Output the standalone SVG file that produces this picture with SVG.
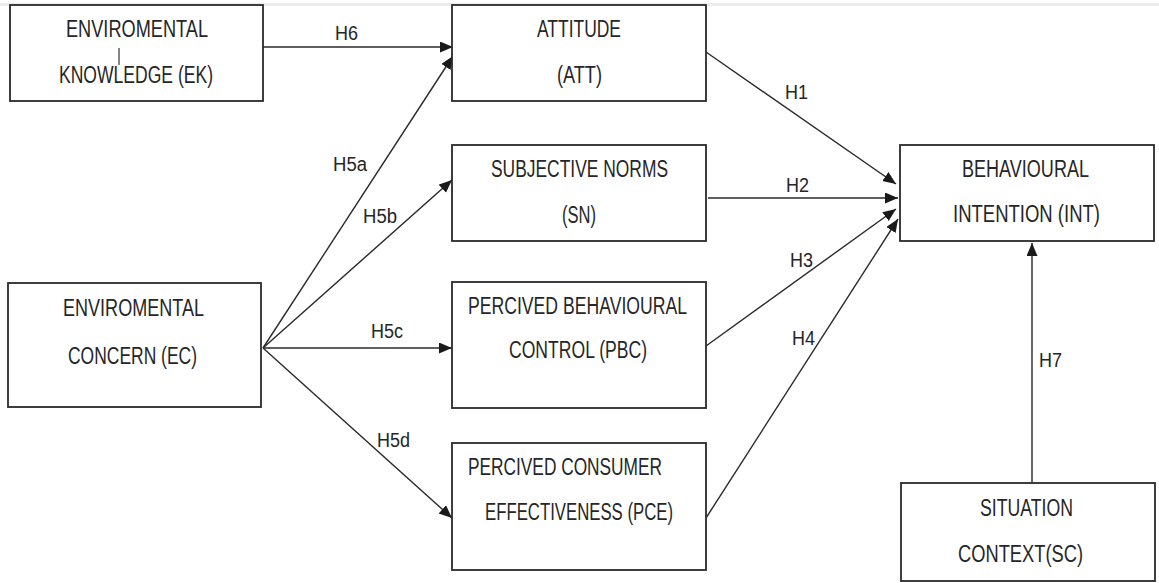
<svg xmlns="http://www.w3.org/2000/svg" width="1159" height="583" viewBox="0 0 1159 583">
  <style>
    .box { fill: #ffffff; stroke: #2a2a2a; stroke-width: 1.8; }
    .lbl { font-family: "Liberation Sans", Arial, sans-serif; font-size: 23px; fill: #262626; }
    .hyp { font-family: "Liberation Sans", Arial, sans-serif; font-size: 20px; fill: #262626; }
    .edge { stroke: #2a2a2a; stroke-width: 1.4; fill: none; marker-end: url(#arrow); }
  </style>
  <defs>
    <marker id="arrow" markerUnits="userSpaceOnUse" markerWidth="14" markerHeight="12" refX="13" refY="5.5" orient="auto">
      <path d="M0,0 L13,5.5 L0,11 Z" fill="#1a1a1a"/>
    </marker>
  </defs>

  <rect width="1159" height="583" fill="#ffffff"/>
  <!-- faint rule along the top edge -->
  <rect x="0" y="3" width="1159" height="3" fill="#ececec"/>

  <!-- connectors -->
  <g id="connectors">
    <line class="edge" x1="263" y1="47" x2="453" y2="47"/>
    <line class="edge" x1="263" y1="348" x2="453" y2="56"/>
    <line class="edge" x1="263" y1="348" x2="452" y2="180"/>
    <line class="edge" x1="263" y1="348" x2="452" y2="348"/>
    <line class="edge" x1="263" y1="348" x2="452" y2="518"/>
    <line class="edge" x1="706" y1="52" x2="896" y2="184"/>
    <line class="edge" x1="708" y1="198" x2="898" y2="198"/>
    <line class="edge" x1="706" y1="346" x2="896" y2="209"/>
    <line class="edge" x1="706" y1="518" x2="898" y2="219"/>
    <line class="edge" x1="1032" y1="483" x2="1032" y2="243"/>

    <text class="hyp" x="335" y="40" textLength="23" lengthAdjust="spacingAndGlyphs">H6</text>
    <text class="hyp" x="333" y="171" textLength="34" lengthAdjust="spacingAndGlyphs">H5a</text>
    <text class="hyp" x="363" y="223" textLength="34" lengthAdjust="spacingAndGlyphs">H5b</text>
    <text class="hyp" x="371" y="338" textLength="32" lengthAdjust="spacingAndGlyphs">H5c</text>
    <text class="hyp" x="377" y="447" textLength="33" lengthAdjust="spacingAndGlyphs">H5d</text>
    <text class="hyp" x="785" y="99" textLength="23" lengthAdjust="spacingAndGlyphs">H1</text>
    <text class="hyp" x="786" y="192" textLength="23" lengthAdjust="spacingAndGlyphs">H2</text>
    <text class="hyp" x="790" y="267" textLength="23" lengthAdjust="spacingAndGlyphs">H3</text>
    <text class="hyp" x="792" y="345" textLength="23" lengthAdjust="spacingAndGlyphs">H4</text>
    <text class="hyp" x="1039" y="367" textLength="23" lengthAdjust="spacingAndGlyphs">H7</text>
  </g>

  <g id="node-ek">
    <rect class="box" x="10" y="5" width="253" height="96"/>
    <text class="lbl" x="66" y="37" textLength="142" lengthAdjust="spacingAndGlyphs">ENVIROMENTAL</text>
    <text class="lbl" x="59" y="83" textLength="154" lengthAdjust="spacingAndGlyphs">KNOWLEDGE (EK)</text>
    <line x1="119" y1="48" x2="119" y2="65" stroke="#333" stroke-width="1.2"/>
  </g>

  <g id="node-att">
    <rect class="box" x="452" y="5" width="254" height="96"/>
    <text class="lbl" x="537" y="37" textLength="84" lengthAdjust="spacingAndGlyphs">ATTITUDE</text>
    <text class="lbl" x="557" y="83" textLength="45" lengthAdjust="spacingAndGlyphs">(ATT)</text>
  </g>

  <g id="node-sn">
    <rect class="box" x="452" y="145" width="254" height="96"/>
    <text class="lbl" x="491" y="177" textLength="177" lengthAdjust="spacingAndGlyphs">SUBJECTIVE NORMS</text>
    <text class="lbl" x="562" y="223" textLength="34" lengthAdjust="spacingAndGlyphs">(SN)</text>
  </g>

  <g id="node-int">
    <rect class="box" x="900" y="145" width="254" height="96"/>
    <text class="lbl" x="962" y="177" textLength="127" lengthAdjust="spacingAndGlyphs">BEHAVIOURAL</text>
    <text class="lbl" x="953" y="222" textLength="147" lengthAdjust="spacingAndGlyphs">INTENTION (INT)</text>
  </g>

  <g id="node-ec">
    <rect class="box" x="8" y="283" width="253" height="124"/>
    <text class="lbl" x="63" y="316" textLength="141" lengthAdjust="spacingAndGlyphs">ENVIROMENTAL</text>
    <text class="lbl" x="68" y="364" textLength="129" lengthAdjust="spacingAndGlyphs">CONCERN (EC)</text>
  </g>

  <g id="node-pbc">
    <rect class="box" x="452" y="282" width="254" height="126"/>
    <text class="lbl" x="468" y="314" textLength="219" lengthAdjust="spacingAndGlyphs">PERCIVED BEHAVIOURAL</text>
    <text class="lbl" x="509" y="358" textLength="138" lengthAdjust="spacingAndGlyphs">CONTROL (PBC)</text>
  </g>

  <g id="node-pce">
    <rect class="box" x="452" y="443" width="254" height="127"/>
    <text class="lbl" x="468" y="475" textLength="194" lengthAdjust="spacingAndGlyphs">PERCIVED CONSUMER</text>
    <text class="lbl" x="485" y="520" textLength="188" lengthAdjust="spacingAndGlyphs">EFFECTIVENESS (PCE)</text>
  </g>

  <g id="node-sc">
    <rect class="box" x="901" y="483" width="254" height="98"/>
    <text class="lbl" x="980" y="516" textLength="93" lengthAdjust="spacingAndGlyphs">SITUATION</text>
    <text class="lbl" x="958" y="562" textLength="125" lengthAdjust="spacingAndGlyphs">CONTEXT(SC)</text>
  </g>
</svg>
